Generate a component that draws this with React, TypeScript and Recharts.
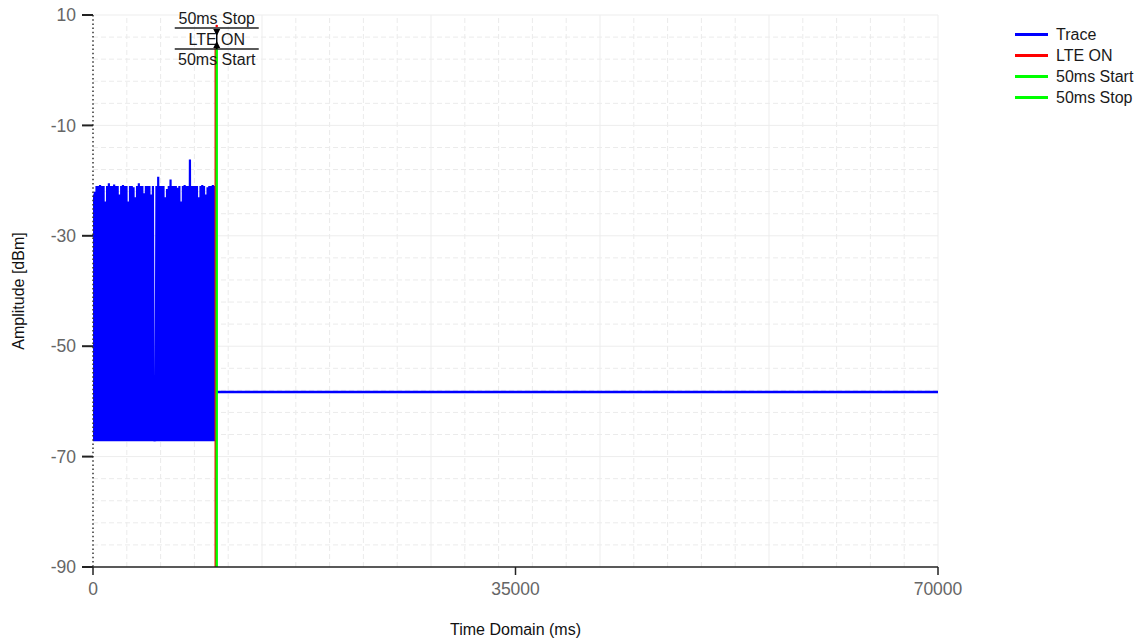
import { LineChart, Line, XAxis, YAxis, ReferenceLine } from "recharts";

const FONT = '"Liberation Sans", Arial, sans-serif';

// burst part of the trace: one peak per sample pair, the floor in between
const SAMPLE_MS = 73;
const NOISE_FLOOR = -67.2;
const noisePeaks = [
	-22.5, -22, -21, -21, -20.8, -21, -21, -23.8, -21, -20.5,
	-21, -21, -20.7, -21, -21, -22.5, -21, -20.8, -21, -21,
	-23.8, -21, -21, -21.2, -23, -21, -20.5, -21, -21, -22.3,
	-21, -21, -21, -22.5, -21, -66.6, -21, -19.3, -21, -21,
	-21, -23, -21.5, -21, -19.8, -21, -21, -21, -21.3, -21,
	-23.8, -21, -20.8, -21, -21, -16.2, -21, -21, -21, -21,
	-23, -21, -20.8, -21, -22.5, -21.2, -21, -21, -20.8, -21,
];

// idle part after the burst
const flatTimes = [10250, 70000];
const flatLevel = -58.3;

const LTE_ON_MS = 10150;
const START_MS = 10250;
const STOP_MS = 10250;

const xTicks = [0, 35000, 70000];
const yTicks = [10, -10, -30, -50, -70, -90];

const gridMajorX = [14000, 28000, 42000, 56000, 70000];
const gridMinorX = [
	2800, 5600, 8400, 11200, 16800, 19600, 22400, 25200, 30800, 33600,
	36400, 39200, 44800, 47600, 50400, 53200, 58800, 61600, 64400, 67200,
];
const gridMajorY = [10, -10, -30, -50, -70];
const gridMinorY = [
	6, 2, -2, -6, -14, -18, -22, -26, -34, -38,
	-42, -46, -54, -58, -62, -66, -74, -78, -82, -86,
];

const legendItems = [
	{ name: "Trace", color: "#0000ff" },
	{ name: "LTE ON", color: "#ff0000" },
	{ name: "50ms Start", color: "#00ff00" },
	{ name: "50ms Stop", color: "#00ff00" },
];

const noiseData = noisePeaks.flatMap((p, k) => [
	{ t: 2 * k * SAMPLE_MS, v: p },
	{ t: (2 * k + 1) * SAMPLE_MS, v: NOISE_FLOOR },
]);
const flatData = flatTimes.map((t) => ({ t, v: flatLevel }));

function MarkerLabels(props: any) {
	const { viewBox } = props;
	if (!viewBox) return null;
	const x = viewBox.x;
	const top = viewBox.y;
	const txt = { fontFamily: FONT, fontSize: 16, fill: "#1a1a1a", textAnchor: "middle" as const };
	return (
		<g>
			<text x={x} y={top + 9} {...txt}>50ms Stop</text>
			<line x1={x - 42} x2={x + 42} y1={top + 13} y2={top + 13} stroke="#222" strokeWidth={1.5} />
			<text x={x} y={top + 30} {...txt}>LTE ON</text>
			<line x1={x - 42} x2={x + 42} y1={top + 34} y2={top + 34} stroke="#222" strokeWidth={1.5} />
			<text x={x} y={top + 50} {...txt}>50ms Start</text>
			<line x1={x} x2={x} y1={top + 14} y2={top + 34} stroke="#000" strokeWidth={1.5} />
			<polygon points={`${x - 3.5},${top + 14} ${x + 3.5},${top + 14} ${x},${top + 21}`} fill="#000" />
			<polygon points={`${x - 3.5},${top + 33} ${x + 3.5},${top + 33} ${x},${top + 26}`} fill="#000" />
			<circle cx={x} cy={top + 11} r={1.3} fill="#ff0000" />
		</g>
	);
}

function YTitle(props: any) {
	const { viewBox } = props;
	if (!viewBox) return null;
	const cx = 18;
	const cy = viewBox.y + viewBox.height / 2;
	return (
		<text
			x={cx}
			y={cy}
			transform={`rotate(-90, ${cx}, ${cy})`}
			textAnchor="middle"
			dominantBaseline="central"
			fontFamily={FONT}
			fontSize={16}
			fill="#111"
		>
			Amplitude [dBm]
		</text>
	);
}

export default function App() {
	return (
		<div style={{ position: "absolute", left: 0, top: 0, width: 1145, height: 641, background: "#fff" }}>
			<LineChart
				width={1145}
				height={641}
				margin={{ top: 15, right: 207, left: 0, bottom: 0 }}
			>
				<XAxis
					dataKey="t"
					type="number"
					domain={[0, 70000]}
					ticks={xTicks}
					allowDataOverflow
					height={74}
					axisLine={{ stroke: "#222", strokeWidth: 1.5 }}
					tickLine={{ stroke: "#222", strokeWidth: 1.5 }}
					tickSize={8}
					tickMargin={8}
					tick={{ fill: "#666", fontSize: 17.5, fontFamily: FONT }}
					label={{ value: "Time Domain (ms)", position: "insideBottom", offset: 6, fill: "#111", fontSize: 16, fontFamily: FONT }}
				/>
				<YAxis
					type="number"
					domain={[-90, 10]}
					ticks={yTicks}
					allowDataOverflow
					width={93}
					axisLine={{ stroke: "#333", strokeWidth: 1.5, strokeDasharray: "1.5 2.7" }}
					tickLine={{ stroke: "#222", strokeWidth: 2 }}
					tickSize={11}
					tickMargin={6}
					tick={{ fill: "#666", fontSize: 17.5, fontFamily: FONT }}
					label={{ content: <YTitle /> }}
				/>
				{gridMinorX.map((g) => (
					<ReferenceLine key={"mx" + g} x={g} stroke="#ebebeb" strokeDasharray="5 3" zIndex={-100} />
				))}
				{gridMinorY.map((g) => (
					<ReferenceLine key={"my" + g} y={g} stroke="#ebebeb" strokeDasharray="5 3" zIndex={-100} />
				))}
				{gridMajorX.map((g) => (
					<ReferenceLine key={"Mx" + g} x={g} stroke="#ededed" zIndex={-100} />
				))}
				{gridMajorY.map((g) => (
					<ReferenceLine key={"My" + g} y={g} stroke="#ededed" zIndex={-100} />
				))}
				<Line
					data={noiseData}
					dataKey="v"
					stroke="#0000ff"
					strokeWidth={2.2}
					strokeLinejoin="miter"
					dot={false}
					activeDot={false}
					isAnimationActive={false}
				/>
				<Line
					data={flatData}
					dataKey="v"
					stroke="#0000ff"
					strokeWidth={2.6}
					dot={false}
					activeDot={false}
					isAnimationActive={false}
				/>
				<ReferenceLine
					segment={[{ x: LTE_ON_MS, y: -90 }, { x: LTE_ON_MS, y: 4 }]}
					stroke="#ff0000"
					strokeWidth={2}
				/>
				<ReferenceLine
					segment={[{ x: START_MS, y: -90 }, { x: START_MS, y: 4 }]}
					stroke="#00ff00"
					strokeWidth={2}
				/>
				<ReferenceLine
					segment={[{ x: STOP_MS, y: -90 }, { x: STOP_MS, y: 4 }]}
					stroke="#00ff00"
					strokeWidth={2}
				/>
				<ReferenceLine x={STOP_MS} stroke="none" label={{ content: <MarkerLabels /> }} />
			</LineChart>
			<div style={{ position: "absolute", left: 1015, top: 24, fontFamily: FONT, fontSize: 16, color: "#1a1a1a" }}>
				{legendItems.map((it) => (
					<div key={it.name} style={{ display: "flex", alignItems: "center", height: 21 }}>
						<span style={{ display: "inline-block", width: 33, height: 3, background: it.color, marginRight: 8 }} />
						<span>{it.name}</span>
					</div>
				))}
			</div>
		</div>
	);
}
